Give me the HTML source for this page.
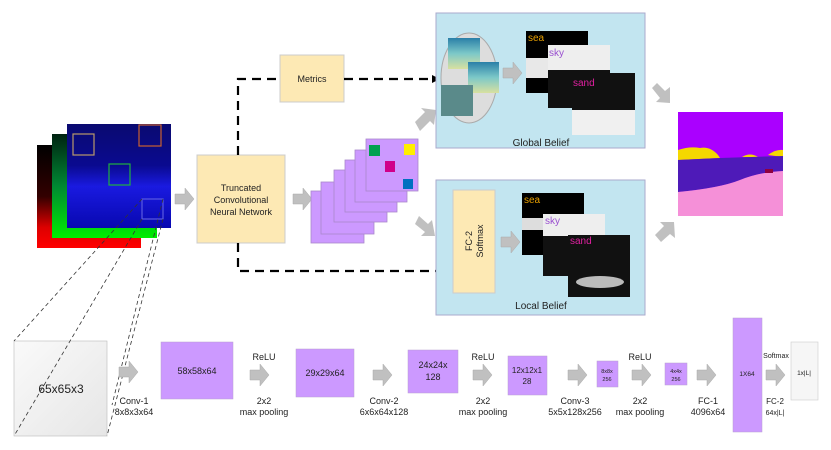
<!DOCTYPE html>
<html><head><meta charset="utf-8"><style>
html,body{margin:0;padding:0;background:#fff;}
svg{display:block;font-family:"Liberation Sans",sans-serif;}
</style></head><body>
<svg width="831" height="450" viewBox="0 0 831 450" xmlns="http://www.w3.org/2000/svg">
<defs>
<linearGradient id="bl" x1="0" y1="0" x2="0" y2="1"><stop offset="0" stop-color="#0a0a70"/><stop offset="0.4" stop-color="#0a0a90"/><stop offset="0.6" stop-color="#1a1ae0"/><stop offset="1" stop-color="#0808b0"/></linearGradient>
<linearGradient id="rd" x1="0" y1="0" x2="0" y2="1"><stop offset="0" stop-color="#000"/><stop offset="0.5" stop-color="#300"/><stop offset="0.8" stop-color="#d00"/><stop offset="1" stop-color="#f00"/></linearGradient>
<linearGradient id="gr" x1="0" y1="0" x2="0" y2="1"><stop offset="0" stop-color="#021"/><stop offset="0.5" stop-color="#083"/><stop offset="1" stop-color="#0e0"/></linearGradient>
<linearGradient id="cube" x1="0" y1="0" x2="1" y2="1"><stop offset="0" stop-color="#fafafa"/><stop offset="1" stop-color="#e6e6e6"/></linearGradient>
<linearGradient id="sk" x1="0" y1="0" x2="0" y2="1"><stop offset="0" stop-color="#2a7fa8"/><stop offset="0.5" stop-color="#7cc8c8"/><stop offset="1" stop-color="#d8e0a0"/></linearGradient>
<g id="ar"><polygon points="0,6 10,6 10,0 19,11 10,22 10,16 0,16" fill="#c0c0c0" stroke="#aaa" stroke-width="0.5"/></g>
</defs>

<rect x="37" y="145" width="104" height="103" fill="url(#rd)"/>
<rect x="52" y="134" width="105" height="104" fill="url(#gr)"/>
<rect x="67" y="124" width="104" height="104" fill="url(#bl)"/>
<rect x="73" y="134" width="21" height="21" fill="none" stroke="#b99a6a" stroke-width="1.2"/>
<rect x="139" y="125" width="22" height="21" fill="none" stroke="#c86030" stroke-width="1.2"/>
<rect x="109" y="164" width="21" height="21" fill="none" stroke="#20b040" stroke-width="1.2"/>
<rect x="142" y="199" width="21" height="20" fill="none" stroke="#5a5ae0" stroke-width="1.2"/>

<use href="#ar" x="175" y="188"/>
<rect x="197" y="155" width="88" height="88" fill="#fde9b4" stroke="#ccc"/>
<text x="241" y="191" font-size="9" text-anchor="middle" fill="#222">Truncated</text>
<text x="241" y="203" font-size="9" text-anchor="middle" fill="#222">Convolutional</text>
<text x="241" y="215" font-size="9" text-anchor="middle" fill="#222">Neural Network</text>

<rect x="280" y="55" width="64" height="47" fill="#fde9b4" stroke="#ccc"/>
<text x="312" y="82" font-size="9" text-anchor="middle" fill="#222">Metrics</text>

<g stroke="#000" stroke-width="2.2" stroke-dasharray="9,6" fill="none">
<path d="M238 155 V79 H280"/>
<path d="M344 79 H432"/>
<path d="M238 243 V271 H440"/>
</g>
<polygon points="440,79 432,75 432,83" fill="#000"/>
<polygon points="448,271 440,267 440,275" fill="#000"/>

<use href="#ar" x="293" y="188"/>
<g fill="#cc99ff" stroke="#aa88cc" stroke-width="0.8">
<rect x="311" y="191" width="53" height="52"/>
<rect x="321" y="182" width="53" height="52"/>
<rect x="334" y="170" width="53" height="52"/>
<rect x="345" y="160" width="52" height="52"/>
<rect x="355" y="150" width="52" height="52"/>
<rect x="366" y="139" width="52" height="52"/>
</g>
<rect x="369" y="145" width="11" height="11" fill="#00a050"/>
<rect x="404" y="144" width="11" height="11" fill="#ffee00"/>
<rect x="385" y="161" width="10" height="11" fill="#d0008a"/>
<rect x="403" y="179" width="10" height="10" fill="#0070c0"/>

<polygon points="415,122 425,112 421,108 436,110 434,125 430,121 420,131" fill="#c0c0c0"/>
<polygon points="415,224 425,232 421,236 435,236 432,220 428,224 419,216" fill="#c0c0c0"/>

<rect x="436" y="13" width="209" height="135" fill="#c2e5f0" stroke="#aac"/>
<ellipse cx="469" cy="78" rx="28" ry="45" fill="#ddd" stroke="#aaa"/>
<rect x="448" y="38" width="32" height="31" fill="url(#sk)"/>
<rect x="468" y="62" width="31" height="31" fill="url(#sk)"/>
<rect x="441" y="85" width="32" height="31" fill="#5a8a8a"/>
<use href="#ar" x="503" y="62"/>
<rect x="526" y="31" width="62" height="62" fill="#000"/>
<rect x="526" y="58" width="62" height="20" fill="#e8e8e8"/>
<rect x="548" y="45" width="62" height="63" fill="#eee"/>
<rect x="548" y="70" width="62" height="38" fill="#111"/>
<rect x="572" y="73" width="63" height="62" fill="#111"/>
<rect x="572" y="110" width="63" height="25" fill="#f0f0f0"/>
<text x="528" y="41" font-size="10" fill="#e8a000">sea</text>
<text x="549" y="56" font-size="10" fill="#9a50d0">sky</text>
<text x="573" y="86" font-size="10" fill="#e020a0">sand</text>
<text x="541" y="146" font-size="10" text-anchor="middle" fill="#222">Global Belief</text>

<rect x="436" y="180" width="209" height="135" fill="#c2e5f0" stroke="#aac"/>
<rect x="453" y="190" width="42" height="103" fill="#fde9b4" stroke="#ccc"/>
<text transform="translate(472,241) rotate(-90)" font-size="9" text-anchor="middle" fill="#222">FC-2</text>
<text transform="translate(483,241) rotate(-90)" font-size="9" text-anchor="middle" fill="#222">Softmax</text>
<use href="#ar" x="501" y="231"/>
<rect x="522" y="193" width="62" height="62" fill="#000"/>
<rect x="522" y="218" width="62" height="12" fill="#ddd"/>
<rect x="543" y="214" width="62" height="62" fill="#111"/>
<rect x="543" y="214" width="62" height="22" fill="#eee"/>
<rect x="568" y="235" width="62" height="62" fill="#111"/>
<ellipse cx="600" cy="282" rx="24" ry="6" fill="#bbb"/>
<text x="524" y="203" font-size="10" fill="#e8a000">sea</text>
<text x="545" y="224" font-size="10" fill="#9a50d0">sky</text>
<text x="570" y="244" font-size="10" fill="#e020a0">sand</text>
<text x="541" y="309" font-size="10" text-anchor="middle" fill="#222">Local Belief</text>

<polygon points="652,88 660,98 656,102 670,103 670,87 665,91 657,83" fill="#c0c0c0"/>
<polygon points="655,235 664,226 660,222 674,222 675,238 670,234 661,242" fill="#c0c0c0"/>

<rect x="678" y="112" width="105" height="104" fill="#aa00ff"/>
<path d="M678 160 L678 150 Q690 146 700 148 Q710 146 718 155 L720 158 Z" fill="#f5d800"/>
<path d="M742 157 Q750 152 758 157 Z" fill="#f5d800"/>
<path d="M768 155 Q776 149 783 150 L783 157 Z" fill="#f5d800"/>
<path d="M678 160 L720 158 L783 156 L783 171 Q760 172 740 180 Q720 188 678 192 Z" fill="#4e1ab8"/>
<path d="M678 192 Q720 188 740 180 Q760 172 783 171 L783 216 L678 216 Z" fill="#f590d8"/>
<rect x="765" y="169" width="8" height="4" fill="#900040"/>

<rect x="14" y="341" width="93" height="95" fill="url(#cube)" stroke="#bbb" stroke-width="0.6"/>
<g stroke="#333" stroke-width="0.8" stroke-dasharray="4,3" fill="none">
<line x1="142" y1="219" x2="14" y2="436"/>
<line x1="163" y1="219" x2="107" y2="436"/>
<line x1="142" y1="199" x2="14" y2="341"/>
<line x1="163" y1="199" x2="112" y2="405"/>
</g>
<text x="61" y="393" font-size="12" text-anchor="middle" fill="#222">65x65x3</text>

<g font-size="9" text-anchor="middle" fill="#222">
<use href="#ar" x="119" y="361"/>
<text x="134" y="404">Conv-1</text><text x="134" y="415">8x8x3x64</text>
<rect x="161" y="342" width="72" height="57" fill="#cc99ff" stroke="#b8a0d0" stroke-width="0.5"/>
<text x="197" y="374">58x58x64</text>
<text x="264" y="360">ReLU</text>
<use href="#ar" x="250" y="364"/>
<text x="264" y="404">2x2</text><text x="264" y="415">max pooling</text>
<rect x="296" y="349" width="58" height="48" fill="#cc99ff" stroke="#b8a0d0" stroke-width="0.5"/>
<text x="325" y="376">29x29x64</text>
<use href="#ar" x="373" y="364"/>
<text x="384" y="404">Conv-2</text><text x="384" y="415">6x6x64x128</text>
<rect x="408" y="350" width="50" height="43" fill="#cc99ff" stroke="#b8a0d0" stroke-width="0.5"/>
<text x="433" y="368">24x24x</text><text x="433" y="380">128</text>
<text x="483" y="360">ReLU</text>
<use href="#ar" x="473" y="364"/>
<text x="483" y="404">2x2</text><text x="483" y="415">max pooling</text>
<rect x="508" y="356" width="39" height="39" fill="#cc99ff" stroke="#b8a0d0" stroke-width="0.5"/>
<text x="527" y="373" font-size="8">12x12x1</text><text x="527" y="384" font-size="8">28</text>
<use href="#ar" x="568" y="364"/>
<text x="575" y="404">Conv-3</text><text x="575" y="415">5x5x128x256</text>
<rect x="597" y="361" width="21" height="26" fill="#cc99ff" stroke="#b8a0d0" stroke-width="0.5"/>
<text x="607" y="373" font-size="5.5">8x8x</text><text x="607" y="381" font-size="5.5">256</text>
<text x="640" y="360">ReLU</text>
<use href="#ar" x="632" y="364"/>
<text x="640" y="404">2x2</text><text x="640" y="415">max pooling</text>
<rect x="665" y="363" width="22" height="22" fill="#cc99ff" stroke="#b8a0d0" stroke-width="0.5"/>
<text x="676" y="373" font-size="5.5">4x4x</text><text x="676" y="381" font-size="5.5">256</text>
<use href="#ar" x="697" y="364"/>
<text x="708" y="404">FC-1</text><text x="708" y="415">4096x64</text>
<rect x="733" y="318" width="29" height="114" fill="#cc99ff" stroke="#b8a0d0" stroke-width="0.5"/>
<text x="747" y="376" font-size="6.5">1X64</text>
<text x="776" y="358" font-size="7">Softmax</text>
<use href="#ar" x="766" y="364"/>
<text x="775" y="404" font-size="8">FC-2</text><text x="775" y="415" font-size="7">64x|L|</text>
<rect x="791" y="342" width="27" height="58" fill="#f6f6f6" stroke="#ccc" stroke-width="0.6"/>
<text x="804" y="375" font-size="6.5">1x|L|</text>
</g>
</svg>
</body></html>
